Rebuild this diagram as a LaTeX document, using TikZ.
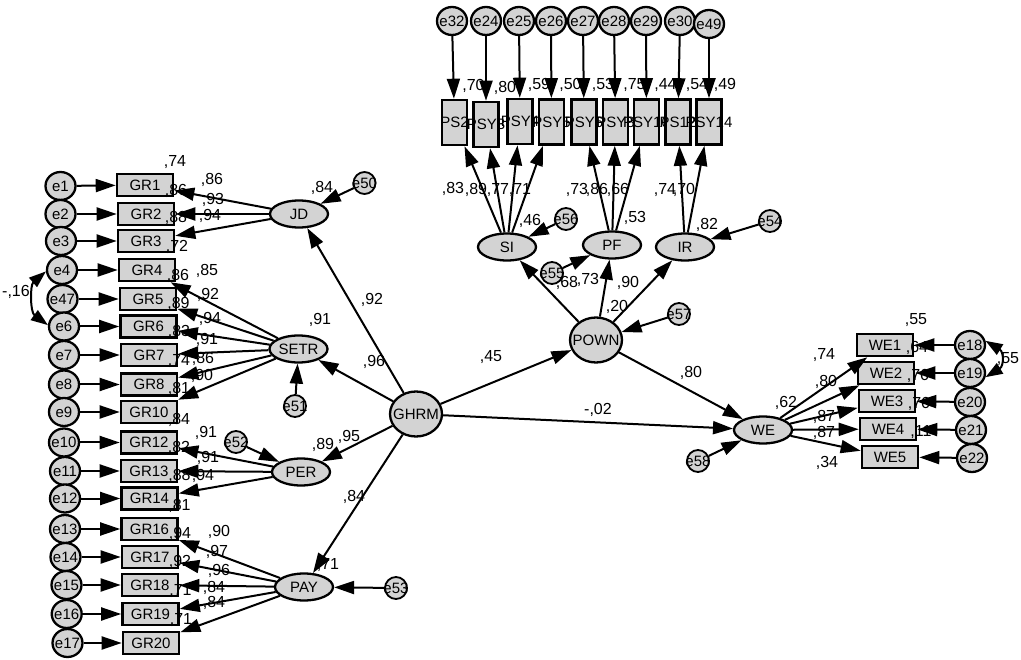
\documentclass[tikz,border=0pt]{standalone}
\usepackage{fontspec}
\setmainfont{Liberation Sans}
\usetikzlibrary{arrows.meta,shapes.geometric}
\definecolor{fg}{RGB}{211,211,211}
\newcommand\mynode[4]{\node[#1] (#2) at (#3) {}; \node[nm] at (#2.center) {#4};}
\newcommand\mylab[2]{\node[lab] at (#1) {#2};}
\begin{document}
\begin{tikzpicture}[x=1pt,y=-1pt,
 nm/.style={font=\fontsize{15}{17}\selectfont, inner sep=0pt},
 lab/.style={font=\fontsize{16}{18}\selectfont, inner sep=0pt},
 obs/.style={draw, line width=2.6pt, fill=fg, minimum width=56pt, minimum height=22pt, inner sep=0pt},
 vob/.style={draw, line width=2.6pt, fill=fg, minimum width=25pt, minimum height=45pt, inner sep=0pt},
 err/.style={ellipse, draw, line width=2.3pt, fill=fg, minimum width=30pt, minimum height=28pt, inner sep=0pt},
 res/.style={circle, draw, line width=1.8pt, fill=fg, minimum size=22pt, inner sep=0pt},
 lat/.style={ellipse, draw, line width=2.3pt, fill=fg, minimum width=58pt, minimum height=27pt, inner sep=0pt},
 big/.style={ellipse, draw, line width=2.3pt, fill=fg, minimum width=52pt, minimum height=45pt, inner sep=0pt},
 arr/.style={-{Triangle[length=20pt,width=13pt]}, line width=2pt},
 darr/.style={{Triangle[length=17pt,width=12pt]}-{Triangle[length=17pt,width=12pt]}, line width=2pt},
]
\useasboundingbox[fill=white] (0,0) rectangle (1021,660);

% ---------- GR indicators ----------
\mynode{obs}{GR1}{145,185}{GR1}
\mynode{obs}{GR2}{146,214}{GR2}
\mynode{obs}{GR3}{146,241}{GR3}
\mynode{obs}{GR4}{147,270}{GR4}
\mynode{obs}{GR5}{148,299}{GR5}
\mynode{obs}{GR6}{148.5,326.5}{GR6}
\mynode{obs}{GR7}{149,355}{GR7}
\mynode{obs}{GR8}{149,384.5}{GR8}
\mynode{obs}{GR10}{149,412}{GR10}
\mynode{obs}{GR12}{149,442.5}{GR12}
\mynode{obs}{GR13}{149,471}{GR13}
\mynode{obs}{GR14}{149.5,498.5}{GR14}
\mynode{obs}{GR16}{149.5,529}{GR16}
\mynode{obs}{GR17}{150,557}{GR17}
\mynode{obs}{GR18}{150,585}{GR18}
\mynode{obs}{GR19}{150.5,614}{GR19}
\mynode{obs}{GR20}{151,643}{GR20}

\mynode{err}{e1}{60.5,186}{e1}
\mynode{err}{e2}{60.5,214}{e2}
\mynode{err}{e3}{61,241}{e3}
\mynode{err}{e4}{62,270}{e4}
\mynode{err}{e47}{62.5,299}{e47}
\mynode{err}{e6}{64,326.5}{e6}
\mynode{err}{e7}{64,355}{e7}
\mynode{err}{e8}{64,384.5}{e8}
\mynode{err}{e9}{64,412}{e9}
\mynode{err}{e10}{64,442.5}{e10}
\mynode{err}{e11}{65,471}{e11}
\mynode{err}{e12}{65,498.5}{e12}
\mynode{err}{e13}{65,529}{e13}
\mynode{err}{e14}{65.5,557}{e14}
\mynode{err}{e15}{66.5,585}{e15}
\mynode{err}{e16}{66.7,614}{e16}
\mynode{err}{e17}{67.5,643}{e17}

% ---------- PSY indicators ----------
\mynode{vob}{P1}{454.5,122.5}{PS2}
\mynode{vob}{P2}{486,124.5}{PSY3}
\mynode{vob}{P3}{520,121.5}{PSY4}
\mynode{vob}{P4}{551.5,122}{PSY5}
\mynode{vob}{P5}{584,122}{PSY6}
\mynode{vob}{P6}{615.5,122}{PSY8}
\mynode{vob}{P7}{646.5,122}{PSY10}
\mynode{vob}{P8}{678,122}{PS12}
\mynode{vob}{P9}{709,122}{PSY14}

\mynode{err}{e32}{452,21}{e32}
\mynode{err}{e24}{486,21}{e24}
\mynode{err}{e25}{519,21}{e25}
\mynode{err}{e26}{551,21}{e26}
\mynode{err}{e27}{583,21}{e27}
\mynode{err}{e28}{614,21}{e28}
\mynode{err}{e29}{646,21}{e29}
\mynode{err}{e30}{680,21}{e30}
\mynode{err}{e49}{709,24}{e49}

% ---------- WE indicators ----------
\mynode{obs}{WE1}{885,345}{WE1}
\mynode{obs}{WE2}{886,373}{WE2}
\mynode{obs}{WE3}{887,401}{WE3}
\mynode{obs}{WE4}{888,429}{WE4}
\mynode{obs}{WE5}{890,457}{WE5}
\mynode{err}{e18}{970,345}{e18}
\mynode{err}{e19}{970,373}{e19}
\mynode{err}{e20}{970,402}{e20}
\mynode{err}{e21}{971,430}{e21}
\mynode{err}{e22}{972,458}{e22}

% ---------- latent variables ----------
\mynode{lat}{JD}{299,214}{JD}
\mynode{lat}{SETR}{298.5,349}{SETR}
\mynode{lat}{PER}{301,472}{PER}
\mynode{lat}{PAY}{304,587}{PAY}
\mynode{big}{GHRM}{416,414}{GHRM}
\mynode{big}{POWN}{596,340}{POWN}
\mynode{lat}{SI}{507,247}{SI}
\mynode{lat}{PF}{612,245}{PF}
\mynode{lat}{IR}{685,247}{IR}
\mynode{lat}{WE}{763,430}{WE}

% ---------- residuals ----------
\mynode{res}{e50}{364.5,183}{e50}
\mynode{res}{e51}{295,406}{e51}
\mynode{res}{e52}{236,442}{e52}
\mynode{res}{e53}{396,588}{e53}
\mynode{res}{e54}{770,221}{e54}
\mynode{res}{e55}{552,273}{e55}
\mynode{res}{e56}{566,219}{e56}
\mynode{res}{e57}{679,314}{e57}
\mynode{res}{e58}{698,461}{e58}

% ---------- R-squared labels of GR boxes ----------
\mylab{[shift={(30,-23)}]GR1.center}{,74}
\mylab{[shift={(30,-23)}]GR2.center}{,86}
\mylab{[shift={(30,-23)}]GR3.center}{,88}
\mylab{[shift={(30,-23)}]GR4.center}{,72}
\mylab{[shift={(30,-23)}]GR5.center}{,86}
\mylab{[shift={(30,-23)}]GR6.center}{,89}
\mylab{[shift={(30,-23)}]GR7.center}{,83}
\mylab{[shift={(30,-23)}]GR8.center}{,74}
\mylab{[shift={(30,-23)}]GR10.center}{,81}
\mylab{[shift={(30,-23)}]GR12.center}{,84}
\mylab{[shift={(30,-23)}]GR13.center}{,82}
\mylab{[shift={(30,-23)}]GR14.center}{,88}
\mylab{[shift={(30,-23)}]GR16.center}{,81}
\mylab{[shift={(30,-23)}]GR17.center}{,94}
\mylab{[shift={(30,-23)}]GR18.center}{,92}
\mylab{[shift={(30,-23)}]GR19.center}{,71}
\mylab{[shift={(30,-23)}]GR20.center}{,71}

% loadings on GR boxes
\mylab{212,180}{,86}
\mylab{213,200}{,93}
\mylab{210,216}{,94}
\mylab{207,271}{,85}
\mylab{208,295}{,92}
\mylab{210,319}{,94}
\mylab{207,340}{,91}
\mylab{203,359}{,86}
\mylab{202,376}{,90}
\mylab{206,433}{,91}
\mylab{208,458}{,91}
\mylab{203,476}{,94}
\mylab{219,532}{,90}
\mylab{217,552}{,97}
\mylab{219,571}{,96}
\mylab{214,588}{,84}
\mylab{214,603}{,84}

% ---------- PSY labels ----------
\mylab{[shift={(19,-37)}]P1.center}{,70}
\mylab{[shift={(19,-37)}]P2.center}{,80}
\mylab{[shift={(19,-37)}]P3.center}{,59}
\mylab{[shift={(19,-37)}]P4.center}{,50}
\mylab{[shift={(19,-37)}]P5.center}{,53}
\mylab{[shift={(19,-37)}]P6.center}{,75}
\mylab{[shift={(19,-37)}]P7.center}{,44}
\mylab{[shift={(19,-37)}]P8.center}{,54}
\mylab{[shift={(16,-37)}]P9.center}{,49}
\mylab{453,189}{,83}
\mylab{476,190}{,89}
\mylab{498,190}{,77}
\mylab{520,190}{,71}
\mylab{577,190}{,73}
\mylab{597,190}{,86}
\mylab{618,190}{,66}
\mylab{665,190}{,74}
\mylab{684,190}{,70}

% ---------- WE labels ----------
\mylab{[shift={(31,-25)}]WE1.center}{,55}
\mylab{[shift={(31,-25)}]WE2.center}{,64}
\mylab{[shift={(31,-25)}]WE3.center}{,76}
\mylab{[shift={(31,-25)}]WE4.center}{,76}
\mylab{[shift={(31,-25)}]WE5.center}{,11}
\mylab{824,355}{,74}
\mylab{826,382}{,80}
\mylab{824,417}{,87}
\mylab{824,433}{,87}
\mylab{827,463}{,34}
\mylab{1008,359}{,55}

% ---------- structural labels ----------
\mylab{322,188}{,84}
\mylab{320,320}{,91}
\mylab{323,445}{,89}
\mylab{328,565}{,71}
\mylab{372,300}{,92}
\mylab{374,362}{,96}
\mylab{349,437}{,95}
\mylab{354,497}{,84}
\mylab{491,357}{,45}
\mylab{598,410}{-,02}
\mylab{691,373}{,80}
\mylab{786,403}{,62}
\mylab{567,283}{,68}
\mylab{588,280}{,73}
\mylab{628,283}{,90}
\mylab{617,307}{,20}
\mylab{530,221}{,46}
\mylab{635,218}{,53}
\mylab{707,225}{,82}
\mylab{16,292}{-,16}

% ---------- arrows: errors to indicators ----------
\foreach \e/\g in {e1/GR1,e2/GR2,e3/GR3,e4/GR4,e47/GR5,e6/GR6,e7/GR7,e8/GR8,e9/GR10,e10/GR12,e11/GR13,e12/GR14,e13/GR16,e14/GR17,e15/GR18,e16/GR19,e17/GR20,
  e32/P1,e24/P2,e25/P3,e26/P4,e27/P5,e28/P6,e29/P7,e30/P8,e49/P9,
  e18/WE1,e19/WE2,e20/WE3,e21/WE4,e22/WE5}
  \draw[arr] (\e) -- (\g);

% loadings
\foreach \f/\g in {JD/GR1,JD/GR2,JD/GR3,
  SETR/GR4,SETR/GR5,SETR/GR6,SETR/GR7,SETR/GR8,SETR/GR10,
  PER/GR12,PER/GR13,PER/GR14,
  PAY/GR16,PAY/GR17,PAY/GR18,PAY/GR19,PAY/GR20,
  SI/P1,SI/P2,SI/P3,SI/P4,PF/P5,PF/P6,PF/P7,IR/P8,IR/P9,
  WE/WE1,WE/WE2,WE/WE3,WE/WE4,WE/WE5}
  \draw[arr] (\f) -- (\g);

% structural paths
\foreach \f/\g in {GHRM/JD,GHRM/SETR,GHRM/PER,GHRM/PAY,GHRM/POWN,GHRM/WE,
  POWN/SI,POWN/PF,POWN/IR,POWN/WE,
  e50/JD,e51/SETR,e52/PER,e53/PAY,e54/IR,e55/PF,e56/SI,e57/POWN,e58/WE}
  \draw[arr] (\f) -- (\g);

% covariances
\draw[darr] (e4.185) .. controls (30,285) and (30,312) .. (e6.175);
\draw[darr] (e18.15) .. controls (1004,352) and (1004,366) .. (e19.-15);
\end{tikzpicture}
\end{document}
